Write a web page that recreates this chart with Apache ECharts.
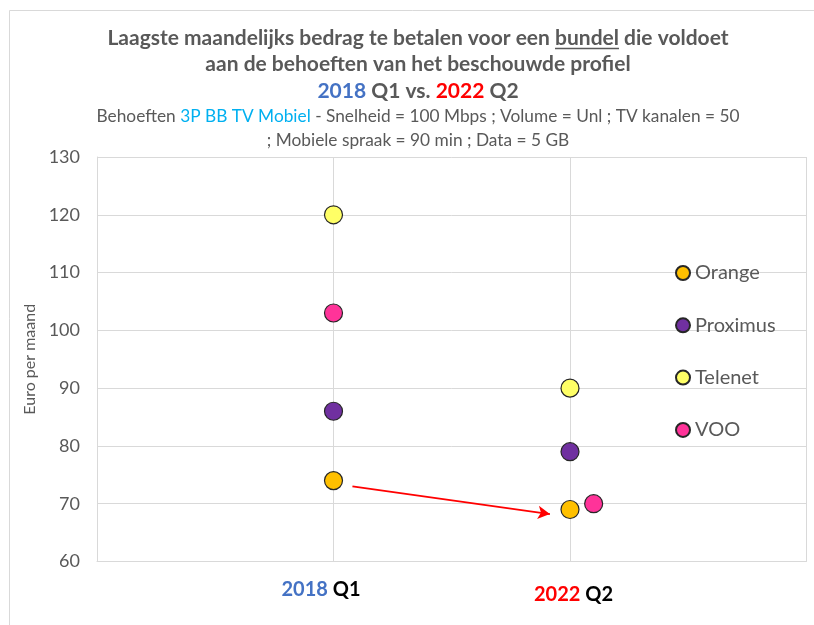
<!DOCTYPE html>
<html><head><meta charset="utf-8">
<script src="https://cdn.jsdelivr.net/npm/echarts@6/dist/echarts.min.js"></script>
<style>html,body{margin:0;padding:0;background:#fff}#c{width:814px;height:625px}</style>
</head><body><div id="c"></div>
<script>
// ---- data ----
const periods = ['2018 Q1', '2022 Q2'];
const periodPos = [1, 2];
const operators = ['Orange', 'Proximus', 'Telenet', 'VOO'];
const orangeVals = [74, 69];
const proximusVals = [86, 79];
const telenetVals = [120, 90];
const vooVals = [103, 70];
const vooPos = [1, 2.1];           // VOO 2022 drawn slightly offset in the original
const yMin = 60, yMax = 130, yStep = 10;
const arrowFrom = [1.08, 73];
const arrowTo = [1.915, 68.2];
const colors = { Orange: '#FFC000', Proximus: '#7030A0', Telenet: '#FFFF66', VOO: '#FF3399' };

const FONT = 'Lato, "Noto Sans", sans-serif';
const GREY = '#595959';
const line1Pre = 'Laagste maandelijks bedrag te betalen voor een ';
const line1U = 'bundel';
const line1Post = ' die voldoet';
const T1SIZE = 21;
const SUBSIZE = 17.3;
const cx = 418;

function pts(xs, ys) { return ys.map((v, i) => [xs[i], v]); }

function underline() {
  const cv = document.createElement('canvas').getContext('2d');
  cv.font = 'bold ' + T1SIZE + 'px Lato';
  const fullW = cv.measureText(line1Pre + line1U + line1Post).width;
  const preW = cv.measureText(line1Pre).width;
  const uW = cv.measureText(line1U).width;
  const x1 = cx - fullW / 2 + preW;
  return { type: 'line', id: 'ul', silent: true, shape: { x1: x1, y1: 48.5, x2: x1 + uW, y2: 48.5 },
    style: { stroke: GREY, lineWidth: 1.5 } };
}

const chart = echarts.init(document.getElementById('c'));
const mk = (name, xs, ys) => ({
  name, type: 'scatter', data: pts(xs, ys), symbol: 'circle', symbolSize: 18,
  itemStyle: { color: colors[name], borderColor: '#262626', borderWidth: 1.2, opacity: 1 },
  z: 5
});
const series = [
  mk('Orange', periodPos, orangeVals),
  mk('Proximus', periodPos, proximusVals),
  mk('Telenet', periodPos, telenetVals),
  mk('VOO', vooPos, vooVals)
];
series[0].markLine = {
  silent: true, symbol: ['none', 'arrow'], symbolSize: [10, 12],
  label: { show: false },
  lineStyle: { color: '#FF0000', width: 2, type: 'solid' },
  data: [[{ coord: arrowFrom }, { coord: arrowTo }]]
};

const bold = (c) => ({ color: c, fontSize: T1SIZE, fontWeight: 'bold', fontFamily: FONT });
const reg = (c) => ({ color: c, fontSize: SUBSIZE, fontWeight: 'normal', fontFamily: FONT });
const xl = (c, pt) => ({ color: c, fontSize: 20, fontWeight: 'bold', fontFamily: FONT, padding: [pt, 0, 0, 0] });

chart.setOption({
  animation: false,
  backgroundColor: '#fff',
  textStyle: { fontFamily: FONT },
  title: [
    { text: line1Pre + line1U + line1Post, left: cx, top: 28, textAlign: 'center', padding: 0,
      textStyle: bold(GREY) },
    { text: 'aan de behoeften van het beschouwde profiel', left: cx, top: 54, textAlign: 'center', padding: 0,
      textStyle: bold(GREY) },
    { text: '{b|2018} {g|Q1 vs.} {r|2022} {g|Q2}', left: cx, top: 80.5, textAlign: 'center', padding: 0,
      textStyle: Object.assign(bold(GREY), { rich: { b: bold('#4472C4'), r: bold('#FF0000'), g: bold(GREY) } }) },
    { text: '{g|Behoeften} {c|3P BB TV Mobiel} {g|- Snelheid = 100 Mbps ; Volume = Unl ; TV kanalen = 50}',
      left: cx, top: 108, textAlign: 'center', padding: 0,
      textStyle: Object.assign(reg(GREY), { rich: { g: reg(GREY), c: reg('#00B0F0') } }) },
    { text: '; Mobiele spraak = 90 min ; Data = 5 GB', left: cx, top: 132, textAlign: 'center', padding: 0,
      textStyle: reg(GREY) }
  ],
  grid: { left: 97, right: 7.5, top: 157, bottom: 63.5, containLabel: false },
  legend: {
    orient: 'vertical', left: 670, top: 258, itemWidth: 14, itemHeight: 14, itemGap: 32.3,
    icon: 'circle', data: operators,
    textStyle: { fontFamily: FONT, fontSize: 20, color: GREY }
  },
  xAxis: {
    type: 'value', min: 0, max: 3, interval: 1,
    axisLine: { show: true, lineStyle: { color: '#d9d9d9', width: 1 } },
    axisTick: { show: false },
    splitLine: { show: true, lineStyle: { color: '#d9d9d9', width: 1 } },
    axisLabel: {
      margin: 18,
      formatter: v => {
        if (v === periodPos[0]) { const p = periods[0].split(' '); return '{b|' + p[0] + ' }{k|' + p[1] + '}{s1|}'; }
        if (v === periodPos[1]) { const p = periods[1].split(' '); return '{s2|}{r|' + p[0] + ' }{k2|' + p[1] + '}'; }
        return '';
      },
      rich: {
        b: xl('#4472C4', 0), k: xl('#000000', 0),
        r: xl('#FF0000', 5), k2: xl('#000000', 5),
        s1: { width: 25 }, s2: { width: 7 }
      }
    }
  },
  yAxis: {
    type: 'value', min: yMin, max: yMax, interval: yStep,
    name: 'Euro per maand', nameLocation: 'middle', nameGap: 58,
    nameTextStyle: { fontFamily: FONT, fontSize: 16, color: GREY, padding: 0 },
    axisLine: { show: true, lineStyle: { color: '#d9d9d9', width: 1 } },
    axisTick: { show: false },
    splitLine: { show: true, lineStyle: { color: '#d9d9d9', width: 1 } },
    axisLabel: { fontFamily: FONT, fontSize: 18, color: GREY, margin: 17 }
  },
  graphic: [
    { type: 'rect', silent: true, shape: { x: 9.5, y: 10.5, width: 1000, height: 1000 },
      style: { fill: 'none', stroke: '#d9d9d9', lineWidth: 1 }, z: -10 },
    underline()
  ],
  series
});
if (document.fonts && document.fonts.load) {
  document.fonts.load('bold ' + T1SIZE + 'px Lato').then(() => {
    chart.setOption({ graphic: [underline()] });
  });
}
</script>
</body></html>
